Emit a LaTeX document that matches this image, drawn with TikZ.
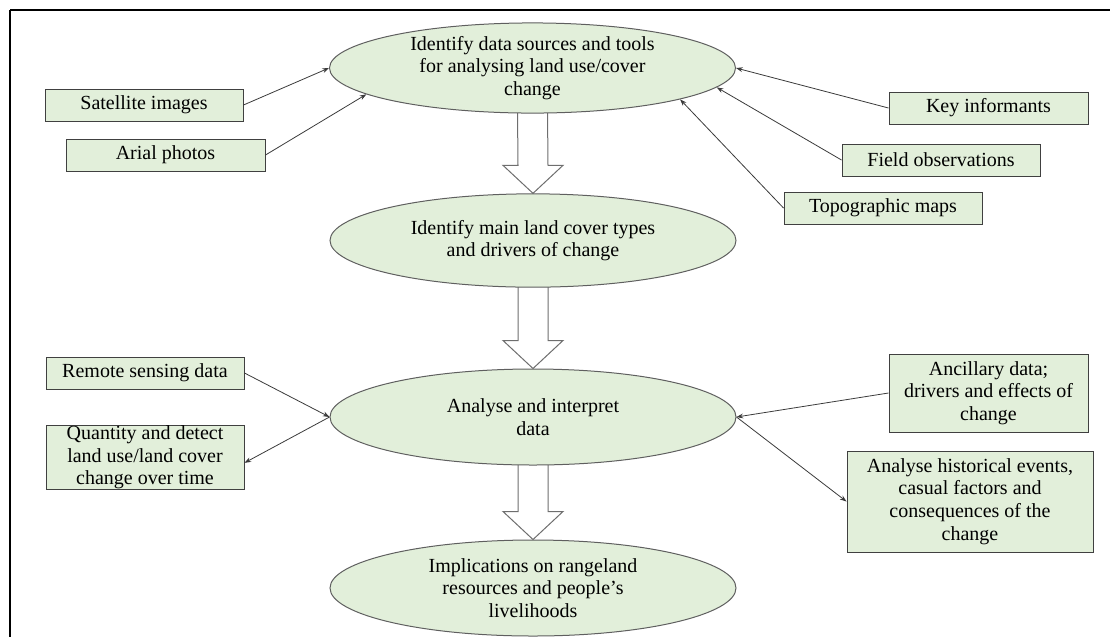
\documentclass[tikz,border=0pt]{standalone}
\usepackage{fontspec}
\setmainfont{Liberation Serif}
\usetikzlibrary{shapes.geometric,arrows.meta,calc,backgrounds}
\definecolor{fillg}{HTML}{E2EFDA}
\definecolor{edgeg}{HTML}{5F5F5F}
\definecolor{boxedge}{HTML}{404040}
\definecolor{linec}{HTML}{3A3A3A}
\definecolor{blockedge}{HTML}{6E6E6E}
\begin{document}
\begin{tikzpicture}[x=0.75pt,y=-0.75pt,
  every node/.style={font=\fontsize{15}{17}\selectfont, text=black},
  oval/.style={ellipse, draw=edgeg, fill=fillg, line width=0.75pt,
    minimum width=304.5pt, minimum height=70.5pt, inner sep=0pt, align=center},
  box/.style={draw=boxedge, fill=fillg, line width=0.75pt, inner sep=0pt,
    align=center, minimum width=148.5pt, minimum height=24pt},
  conn/.style={draw=linec, line width=0.6pt,
    -{Stealth[length=5pt,width=3.6pt]}},
  blockarrow/.style={draw=blockedge, fill=white, line width=0.75pt, line join=miter}
]
\useasboundingbox (0,0) rectangle (1114,637);
% frame
\draw[black, line width=1pt] (10,10) -- (1110,10);
\draw[black, line width=1.6pt] (10,10) -- (10,637);

% ellipses
\node[oval, minimum height=67.5pt] (e1) at (532.5,68)
  {Identify data sources and tools\\for analysing land use/cover\\change};
\node[oval, minimum height=70pt] (e2) at (533,240.5)
  {Identify main land cover types\\and drivers of change};
\node[oval, minimum height=72pt] (e3) at (533,417)
  {Analyse and interpret\\data};
\node[oval, minimum height=72pt] (e4) at (533,588)
  {Implications on rangeland\\resources and people’s\\livelihoods};

% boxes
\node[box] (sat) at (144,105) {Satellite images};
\node[box, minimum width=149.25pt] (arial) at (165.5,155) {Arial photos};
\node[box, minimum width=149.25pt] (key) at (988.5,108) {Key informants};
\node[box] (field) at (941,160) {Field observations};
\node[box] (topo) at (883,208) {Topographic maps};
\node[box] (remote) at (145,373) {Remote sensing data};
\node[box, minimum height=45.75pt] (quant) at (145,457.5)
  {Quantity and detect\\land use/land cover\\change over time};
\node[box, minimum width=149.25pt, minimum height=58.5pt] (ancil) at (988.5,393)
  {Ancillary data;\\drivers and effects of\\change};
\node[box, minimum width=184.5pt, minimum height=75.75pt] (hist) at (970,501.5)
  {Analyse historical events,\\casual factors and\\consequences of the\\change};

% block arrows
\begin{scope}[on background layer]
\draw[blockarrow] ($(e1.south)+(-15,-2)$) -- ($(e2.north)+(-15,-28)$) -- ($(e2.north)+(-30,-28)$)
  -- (e2.north) -- ($(e2.north)+(30,-28)$) -- ($(e2.north)+(15,-28)$) -- ($(e1.south)+(15,-2)$) -- cycle;
\draw[blockarrow] ($(e2.south)+(-15,-2)$) -- ($(e3.north)+(-15,-28)$) -- ($(e3.north)+(-30,-28)$)
  -- (e3.north) -- ($(e3.north)+(30,-28)$) -- ($(e3.north)+(15,-28)$) -- ($(e2.south)+(15,-2)$) -- cycle;
\draw[blockarrow] ($(e3.south)+(-15,-2)$) -- ($(e4.north)+(-15,-28)$) -- ($(e4.north)+(-30,-28)$)
  -- (e4.north) -- ($(e4.north)+(30,-28)$) -- ($(e4.north)+(15,-28)$) -- ($(e3.south)+(15,-2)$) -- cycle;
\end{scope}

% connectors
\draw[conn] (sat.east) -- (e1.west);
\draw[conn] (arial.east) -- (e1.189);
\draw[conn] (key.west) -- (e1.east);
\draw[conn] (field.west) -- (e1.354);
\draw[conn] (topo.west) -- (e1.348);
\draw[conn] (remote.east) -- (e3.west);
\draw[conn] (e3.west) -- ([yshift=-4pt]quant.east);
\draw[conn] (ancil.west) -- (e3.east);
\draw[conn] (e3.east) -- (hist.west);
\end{tikzpicture}
\end{document}
